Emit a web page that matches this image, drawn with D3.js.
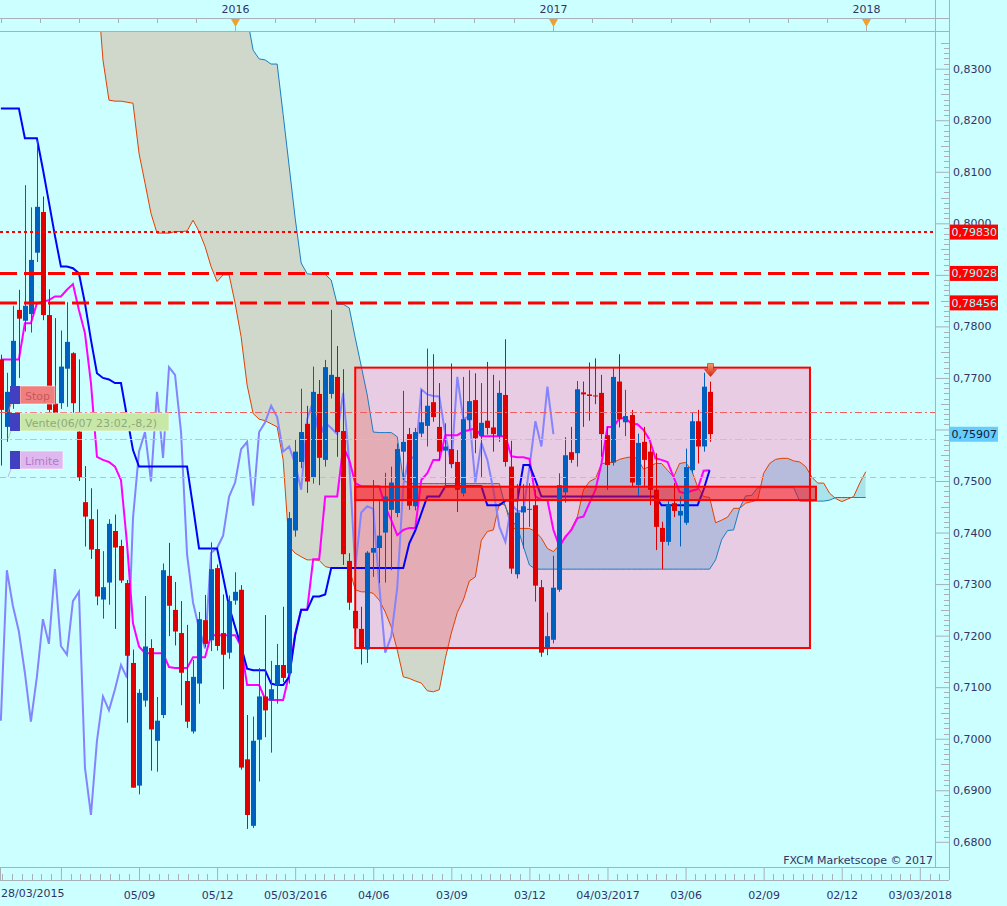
<!DOCTYPE html>
<html>
<head>
<meta charset="utf-8">
<script src="https://cdn.jsdelivr.net/npm/d3@7"></script>
<style>
  html, body { margin: 0; padding: 0; background: #ccffff; }
  svg { display: block; font-family: "DejaVu Sans", Verdana, sans-serif; }
</style>
</head>
<body>
<svg id="chart" width="1007" height="906"></svg>
<script>
// AUD/USD weekly candles, first week starts 28/03/2015
const firstWeek = new Date(Date.UTC(2015, 2, 28));

const opens = [
  0.7736,0.7605,0.7657,0.7832,0.7811,0.7824,0.7943,0.8022,0.7822,0.7650,
  0.7651,0.7718,0.7748,0.7596,0.7459,0.7426,0.7368,0.7270,0.7303,0.7403,
  0.7374,0.7302,0.7147,0.6909,0.7074,0.7176,0.6996,0.7046,0.7316,0.7250,
  0.7205,0.7112,0.7014,0.7107,0.7230,0.7191,0.7331,0.7205,0.7167,0.7268,
  0.7289,0.6960,0.6831,0.6998,0.7082,0.7074,0.7103,0.7143,0.7127,0.7404,
  0.7537,0.7611,0.7507,0.7669,0.7541,0.7669,0.7702,0.7597,0.7345,0.7248,
  0.7213,0.7173,0.7361,0.7370,0.7400,0.7444,0.7438,0.7557,0.7591,0.7451,
  0.7592,0.7607,0.7653,0.7605,0.7559,0.7562,0.7537,0.7476,0.7618,0.7657,
  0.7587,0.7617,0.7604,0.7587,0.7667,0.7528,0.7319,0.7439,0.7445,0.7453,
  0.7294,0.7177,0.7192,0.7289,0.7478,0.7556,0.7554,0.7672,0.7668,0.7666,
  0.7671,0.7589,0.7536,0.7693,0.7614,0.7628,0.7492,0.7576,0.7557,0.7483,
  0.7409,0.7382,0.7457,0.7433,0.7419,0.7521,0.7616,0.7567,0.7673
];
const highs = [
  0.7745,0.7710,0.7840,0.7871,0.8074,0.8031,0.8161,0.8052,0.7872,0.7816,
  0.7792,0.7847,0.7750,0.7736,0.7529,0.7486,0.7445,0.7364,0.7426,0.7435,
  0.7386,0.7308,0.7173,0.7096,0.7277,0.7193,0.7081,0.7340,0.7380,0.7304,
  0.7267,0.7221,0.7153,0.7246,0.7279,0.7381,0.7338,0.7280,0.7278,0.7323,
  0.7298,0.7046,0.7043,0.7137,0.7240,0.7151,0.7184,0.7256,0.7440,0.7580,
  0.7679,0.7646,0.7722,0.7696,0.7735,0.7832,0.7762,0.7717,0.7360,0.7300,
  0.7256,0.7364,0.7502,0.7463,0.7516,0.7528,0.7573,0.7675,0.7603,0.7603,
  0.7677,0.7757,0.7746,0.7690,0.7612,0.7728,0.7560,0.7702,0.7715,0.7709,
  0.7690,0.7731,0.7706,0.7695,0.7775,0.7578,0.7494,0.7494,0.7496,0.7483,
  0.7308,0.7245,0.7355,0.7515,0.7585,0.7605,0.7694,0.7693,0.7730,0.7738,
  0.7706,0.7605,0.7719,0.7746,0.7677,0.7638,0.7592,0.7605,0.7573,0.7554,
  0.7421,0.7461,0.7496,0.7470,0.7563,0.7634,0.7638,0.7710,0.7693
];
const lows = [
  0.7530,0.7576,0.7640,0.7700,0.7790,0.7788,0.7925,0.7812,0.7620,0.7610,
  0.7640,0.7644,0.7620,0.7500,0.7373,0.7349,0.7259,0.7233,0.7260,0.7213,
  0.7302,0.7031,0.6905,0.6892,0.7062,0.6938,0.6936,0.7040,0.7199,0.7181,
  0.7065,0.7021,0.7010,0.7068,0.7178,0.7170,0.7171,0.7096,0.7155,0.7260,
  0.6940,0.6825,0.6827,0.6917,0.7003,0.6973,0.7068,0.7110,0.7107,0.7392,
  0.7525,0.7477,0.7495,0.7492,0.7528,0.7660,0.7547,0.7337,0.7250,0.7200,
  0.7144,0.7147,0.7314,0.7302,0.7303,0.7327,0.7430,0.7502,0.7444,0.7443,
  0.7585,0.7567,0.7615,0.7540,0.7489,0.7525,0.7440,0.7470,0.7600,0.7554,
  0.7508,0.7590,0.7557,0.7576,0.7528,0.7320,0.7311,0.7369,0.7411,0.7266,
  0.7159,0.7162,0.7185,0.7285,0.7458,0.7535,0.7528,0.7605,0.7617,0.7649,
  0.7547,0.7483,0.7530,0.7604,0.7587,0.7490,0.7471,0.7489,0.7453,0.7366,
  0.7329,0.7375,0.7430,0.7373,0.7415,0.7515,0.7534,0.7557,0.7576
];
const closes = [
  0.7638,0.7673,0.7772,0.7815,0.7840,0.7929,0.8032,0.7822,0.7638,0.7630,
  0.7722,0.7770,0.7651,0.7507,0.7431,0.7367,0.7276,0.7294,0.7417,0.7371,
  0.7307,0.7161,0.6905,0.7089,0.7179,0.7018,0.7035,0.7327,0.7258,0.7208,
  0.7128,0.7033,0.7120,0.7232,0.7184,0.7329,0.7180,0.7163,0.7267,0.7285,
  0.6944,0.6852,0.6996,0.7082,0.7055,0.7096,0.7143,0.7118,0.7428,0.7557,
  0.7595,0.7499,0.7673,0.7545,0.7721,0.7706,0.7595,0.7358,0.7264,0.7214,
  0.7175,0.7361,0.7370,0.7394,0.7470,0.7497,0.7562,0.7576,0.7452,0.7595,
  0.7614,0.7646,0.7624,0.7557,0.7567,0.7533,0.7483,0.7620,0.7655,0.7583,
  0.7613,0.7603,0.7591,0.7671,0.7537,0.7330,0.7439,0.7451,0.7446,0.7297,
  0.7167,0.7199,0.7293,0.7492,0.7550,0.7541,0.7678,0.7668,0.7665,0.7664,
  0.7591,0.7531,0.7702,0.7620,0.7626,0.7497,0.7574,0.7541,0.7483,0.7411,
  0.7382,0.7455,0.7442,0.7442,0.7527,0.7616,0.7567,0.7683,0.7591
];

// Ichimoku lines, one value per candle
const tenkan = [
  0.7736,0.7736,0.7736,0.7736,0.7806,0.7806,0.7845,0.7848,0.7851,0.7858,
  0.7858,0.7871,0.7882,0.7832,0.7787,0.7690,0.7547,0.7541,0.7537,0.7528,
  0.7502,0.7379,0.7224,0.7179,0.7166,0.7166,0.7166,0.7166,0.7139,0.7137,
  0.7137,0.7137,0.7158,0.7158,0.7158,0.7201,0.7201,0.7201,0.7201,0.7201,
  0.7179,0.7104,0.7104,0.7104,0.7077,0.7075,0.7075,0.7075,0.7124,0.7204,
  0.7250,0.7250,0.7348,0.7348,0.7470,0.7470,0.7470,0.7567,0.7541,0.7496,
  0.7490,0.7490,0.7490,0.7490,0.7450,0.7424,0.7395,0.7405,0.7409,0.7409,
  0.7502,0.7515,0.7541,0.7541,0.7589,0.7589,0.7589,0.7596,0.7599,0.7602,
  0.7587,0.7587,0.7587,0.7587,0.7587,0.7548,0.7546,0.7546,0.7543,0.7470,
  0.7463,0.7463,0.7405,0.7373,0.7392,0.7405,0.7428,0.7431,0.7457,0.7483,
  0.7534,0.7605,0.7605,0.7622,0.7622,0.7611,0.7610,0.7599,0.7580,0.7544,
  0.7541,0.7537,0.7508,0.7479,0.7476,0.7481,0.7484,0.7520,0.7521
];
const kijun = [
  0.8223,0.8223,0.8223,0.8223,0.8165,0.8165,0.8165,0.8105,0.8041,0.7976,
  0.7916,0.7916,0.7913,0.7903,0.7845,0.7774,0.7709,0.7700,0.7697,0.7690,
  0.7690,0.7625,0.7560,0.7528,0.7528,0.7528,0.7528,0.7528,0.7528,0.7528,
  0.7528,0.7528,0.7450,0.7369,0.7369,0.7369,0.7369,0.7314,0.7256,0.7217,
  0.7179,0.7136,0.7133,0.7133,0.7133,0.7107,0.7104,0.7104,0.7120,0.7200,
  0.7250,0.7250,0.7276,0.7276,0.7280,0.7331,0.7331,0.7331,0.7331,0.7331,
  0.7331,0.7331,0.7331,0.7331,0.7331,0.7331,0.7331,0.7331,0.7379,0.7404,
  0.7437,0.7470,0.7470,0.7470,0.7490,0.7490,0.7490,0.7490,0.7490,0.7490,
  0.7490,0.7453,0.7453,0.7453,0.7462,0.7462,0.7462,0.7531,0.7531,0.7502,
  0.7470,0.7470,0.7470,0.7470,0.7470,0.7470,0.7470,0.7470,0.7470,0.7470,
  0.7470,0.7470,0.7470,0.7470,0.7470,0.7470,0.7470,0.7470,0.7470,0.7470,
  0.7453,0.7453,0.7453,0.7453,0.7453,0.7453,0.7453,0.7483,0.7521
];
// cloud spans, shifted 26 weeks ahead (145 points)
const spanOrange = [
  0.8780,0.8780,0.8745,0.8712,0.8712,0.8690,0.8655,0.8655,0.8610,0.8588,
  0.8588,0.8560,0.8540,0.8540,0.8515,0.8490,0.8470,0.8317,0.8239,0.8237,
  0.8237,0.8235,0.8233,0.8136,0.8078,0.8019,0.7981,0.7981,0.7981,0.7984,
  0.7984,0.7985,0.8006,0.7984,0.7955,0.7916,0.7887,0.7900,0.7900,0.7845,
  0.7780,0.7686,0.7631,0.7620,0.7617,0.7611,0.7605,0.7541,0.7373,0.7360,
  0.7353,0.7347,0.7347,0.7346,0.7334,0.7331,0.7331,0.7331,0.7331,0.7289,
  0.7285,0.7285,0.7282,0.7269,0.7246,0.7217,0.7172,0.7120,0.7117,0.7112,
  0.7108,0.7093,0.7091,0.7095,0.7156,0.7205,0.7245,0.7269,0.7306,0.7314,
  0.7385,0.7402,0.7405,0.7457,0.7453,0.7408,0.7408,0.7408,0.7408,0.7402,
  0.7389,0.7369,0.7363,0.7376,0.7389,0.7408,0.7431,0.7483,0.7499,0.7505,
  0.7533,0.7536,0.7536,0.7542,0.7545,0.7547,0.7544,0.7523,0.7528,0.7534,
  0.7534,0.7521,0.7508,0.7534,0.7536,0.7521,0.7489,0.7470,0.7468,0.7419,
  0.7424,0.7430,0.7447,0.7447,0.7457,0.7460,0.7463,0.7515,0.7534,0.7542,
  0.7544,0.7544,0.7539,0.7537,0.7528,0.7508,0.7496,0.7496,0.7476,0.7466,
  0.7460,0.7465,0.7470,0.7496,0.7518
];
const spanBlue = [
  0.9010,0.9010,0.8995,0.8980,0.8980,0.8965,0.8950,0.8950,0.8930,0.8910,
  0.8910,0.8890,0.8875,0.8875,0.8860,0.8840,0.8840,0.8820,0.8805,0.8805,
  0.8790,0.8770,0.8770,0.8750,0.8735,0.8735,0.8720,0.8700,0.8700,0.8680,
  0.8665,0.8665,0.8640,0.8620,0.8620,0.8600,0.8580,0.8580,0.8560,0.8520,
  0.8470,0.8400,0.8336,0.8319,0.8317,0.8309,0.8309,0.8211,0.8111,0.8010,
  0.7923,0.7902,0.7901,0.7901,0.7901,0.7890,0.7843,0.7843,0.7836,0.7778,
  0.7723,0.7667,0.7595,0.7594,0.7594,0.7594,0.7586,0.7502,0.7495,0.7495,
  0.7495,0.7495,0.7495,0.7495,0.7495,0.7495,0.7495,0.7495,0.7495,0.7495,
  0.7495,0.7495,0.7495,0.7495,0.7450,0.7424,0.7411,0.7373,0.7337,0.7329,
  0.7329,0.7329,0.7329,0.7329,0.7329,0.7329,0.7329,0.7329,0.7329,0.7329,
  0.7329,0.7329,0.7329,0.7329,0.7329,0.7329,0.7329,0.7329,0.7329,0.7329,
  0.7329,0.7329,0.7329,0.7329,0.7329,0.7329,0.7329,0.7329,0.7329,0.7347,
  0.7386,0.7404,0.7405,0.7447,0.7471,0.7472,0.7487,0.7487,0.7487,0.7487,
  0.7487,0.7487,0.7487,0.7461,0.7461,0.7461,0.7461,0.7461,0.7463,0.7468,
  0.7468,0.7468,0.7468,0.7468,0.7468
];
const chikouShift = 26;

// drawn objects
const zoneDates = [new Date(Date.UTC(2016, 4, 14)), new Date(Date.UTC(2017, 9, 26))];
const zonePrices = [0.7720, 0.7176];
const bandDates = [new Date(Date.UTC(2016, 4, 14)), new Date(Date.UTC(2017, 10, 2))];
const bandPrices = [0.7489, 0.7463];
const levelPrices = [0.79830, 0.79028, 0.78456];
const orderNames = ["Stop", "Vente(06/07 23:02,-8,2)", "Limite"];
const orderPrices = [0.7634, 0.7582, 0.7508];
const lastPrice = 0.75907;
const yearMarks = [2015, 2016, 2017, 2018, 2019];
const hiddenPriceTicks = [0.79, 0.76]; // covered by the value boxes

// ---------- layout ----------
const plotR = 935, plotT = 31, plotB = 867, axisR = 949, axisT = 18, axisB = 880;
const axisColor = "#a8b0b8", textColor = "#333366";

const x = d3.scaleUtc()
    .domain([new Date(Date.UTC(2015, 8, 5)), new Date(Date.UTC(2018, 2, 3))])
    .range([139, 919.8]);
const y = d3.scaleLinear().domain([0.68, 0.83]).range([841.8, 68.7]);

const weeks = d3.range(spanOrange.length).map(i => d3.utcDay.offset(firstWeek, 7 * i));
const idx = d3.range(spanOrange.length);
const cidx = d3.range(opens.length);

const svg = d3.select("#chart");
svg.append("rect").attr("width", 1007).attr("height", 906).attr("fill", "#ccffff");

const defs = svg.append("defs");
defs.append("clipPath").attr("id", "plotClip")
  .append("rect").attr("x", 0).attr("y", plotT).attr("width", plotR).attr("height", plotB - plotT);
defs.append("clipPath").attr("id", "aboveOrange")
  .append("path").attr("d", d3.area().x(i => x(weeks[i])).y0(-3000).y1(i => y(spanOrange[i]))(idx));
defs.append("clipPath").attr("id", "belowOrange")
  .append("path").attr("d", d3.area().x(i => x(weeks[i])).y0(3000).y1(i => y(spanOrange[i]))(idx));
const zx0 = x(zoneDates[0]), zx1 = x(zoneDates[1]), zy0 = y(zonePrices[0]), zy1 = y(zonePrices[1]);
defs.append("clipPath").attr("id", "zoneClip")
  .append("rect").attr("x", zx0).attr("y", zy0).attr("width", zx1 - zx0).attr("height", zy1 - zy0);
const grad = defs.append("linearGradient").attr("id", "arrowGrad")
  .attr("x1", 0).attr("y1", 0).attr("x2", 0).attr("y2", 1);
grad.append("stop").attr("offset", "0%").attr("stop-color", "#f4a070");
grad.append("stop").attr("offset", "100%").attr("stop-color", "#d82010");

const plot = svg.append("g").attr("clip-path", "url(#plotClip)");

// pink zone
plot.append("rect")
    .attr("x", zx0).attr("y", zy0).attr("width", zx1 - zx0).attr("height", zy1 - zy0)
    .attr("fill", "#e8cce4");

// cloud
const cloudArea = d3.area().x(i => x(weeks[i])).y0(i => y(spanOrange[i])).y1(i => y(spanBlue[i]));
plot.append("path").attr("d", cloudArea(idx)).attr("fill", "#d0d8cc").attr("clip-path", "url(#aboveOrange)");
plot.append("path").attr("d", cloudArea(idx)).attr("fill", "#a8e4ec").attr("clip-path", "url(#belowOrange)");
const inZone = plot.append("g").attr("clip-path", "url(#zoneClip)");
inZone.append("path").attr("d", cloudArea(idx)).attr("fill", "#e4acb4").attr("clip-path", "url(#aboveOrange)");
inZone.append("path").attr("d", cloudArea(idx)).attr("fill", "#b8bcdc").attr("clip-path", "url(#belowOrange)");

const spanLine = arr => d3.line().x(i => x(weeks[i])).y(i => y(arr[i]))(idx);
plot.append("path").attr("d", spanLine(spanOrange)).attr("fill", "none").attr("stroke", "#e04000").attr("stroke-width", 1);
plot.append("path").attr("d", spanLine(spanBlue)).attr("fill", "none").attr("stroke", "#1e7cc0").attr("stroke-width", 1);

// chikou, tenkan, kijun
const chIdx = d3.range(closes.length - chikouShift);
plot.append("path")
    .attr("d", d3.line().x(i => x(weeks[i])).y(i => y(closes[i + chikouShift]))(chIdx))
    .attr("fill", "none").attr("stroke", "#8484ff").attr("stroke-width", 2);
plot.append("path")
    .attr("d", d3.line().x(i => x(weeks[i])).y(i => y(tenkan[i]))(cidx))
    .attr("fill", "none").attr("stroke", "#ff00ff").attr("stroke-width", 2);
plot.append("path")
    .attr("d", d3.line().x(i => x(weeks[i])).y(i => y(kijun[i]))(cidx))
    .attr("fill", "none").attr("stroke", "#0000ff").attr("stroke-width", 2);

// red band
const bx0 = x(bandDates[0]), bx1 = x(bandDates[1]), by0 = y(bandPrices[0]), by1 = y(bandPrices[1]);
plot.append("rect")
    .attr("x", bx0).attr("y", by0).attr("width", bx1 - bx0).attr("height", by1 - by0)
    .attr("fill", "rgba(255,0,0,0.5)");

// zone border
plot.append("rect")
    .attr("x", zx0).attr("y", zy0).attr("width", zx1 - zx0).attr("height", zy1 - zy0)
    .attr("fill", "none").attr("stroke", "#ff0000").attr("stroke-width", 2);

// candles
const candle = plot.append("g").selectAll("g").data(cidx).join("g");
const cColor = i => closes[i] >= opens[i] ? "#0060c0" : "#e00000";
candle.append("line")
    .attr("x1", i => Math.round(x(weeks[i])) + 0.5).attr("x2", i => Math.round(x(weeks[i])) + 0.5)
    .attr("y1", i => y(highs[i])).attr("y2", i => y(lows[i]))
    .attr("stroke", cColor).attr("stroke-width", 1);
candle.append("rect")
    .attr("x", i => Math.round(x(weeks[i])) - 2)
    .attr("width", 5)
    .attr("y", i => y(Math.max(opens[i], closes[i])))
    .attr("height", i => Math.max(1, Math.abs(y(opens[i]) - y(closes[i]))))
    .attr("fill", cColor);

plot.append("rect")
    .attr("x", bx0).attr("y", by0).attr("width", bx1 - bx0).attr("height", by1 - by0)
    .attr("fill", "none").attr("stroke", "#ff0000").attr("stroke-width", 2);

// horizontal price levels
plot.selectAll("line.level").data(levelPrices).join("line")
    .attr("class", "level")
    .attr("x1", 0).attr("x2", plotR)
    .attr("y1", d => y(d)).attr("y2", d => y(d))
    .attr("stroke", "#ff0000")
    .attr("stroke-width", (d, i) => i === 0 ? 2 : 3)
    .attr("stroke-dasharray", (d, i) => i === 0 ? "3,3" : "17,7");

// order lines
const orderStroke = ["#f06060", "#a8d8a0", "#d0b0e0"];
const orderDash = ["7,3,2,3", "7,3,2,3", "6,4"];
plot.selectAll("line.order").data(orderPrices).join("line")
    .attr("class", "order")
    .attr("x1", 0).attr("x2", plotR)
    .attr("y1", d => Math.round(y(d)) + 0.5).attr("y2", d => Math.round(y(d)) + 0.5)
    .attr("stroke", (d, i) => orderStroke[i]).attr("stroke-width", 1)
    .attr("stroke-dasharray", (d, i) => orderDash[i]);

// order labels on the left
const boxFill = ["#f08080", "#c8e8a8", "#e0b8f0"];
const boxText = ["#c85858", "#90a880", "#b078c8"];
const boxW = [35, 149, 43];
const ol = svg.append("g").selectAll("g").data(orderPrices).join("g")
    .attr("transform", d => `translate(0,${Math.round(y(d)) - 26})`);
ol.append("line").attr("x1", 8).attr("y1", 26).attr("x2", 11).attr("y2", 18)
    .attr("stroke", (d, i) => orderStroke[i]).attr("stroke-width", 1);
ol.append("rect").attr("x", 20).attr("y", 0).attr("height", 18)
    .attr("width", (d, i) => boxW[i])
    .attr("fill", (d, i) => boxFill[i]).attr("stroke", "#ffffff").attr("stroke-opacity", 0.5);
ol.append("rect").attr("x", 10).attr("y", 0).attr("width", 10).attr("height", 18).attr("fill", "#4040c0");
ol.append("text").attr("x", 25).attr("y", 13.5)
    .attr("font-size", 11).attr("fill", (d, i) => boxText[i])
    .text((d, i) => orderNames[i]);

// signal arrow above last candle
const last = opens.length - 1;
const ax = Math.round(x(weeks[last])) + 0.5, ay = y(highs[last]) - 5;
svg.append("polygon")
    .attr("points", [[ax - 3, ay - 13], [ax + 3, ay - 13], [ax + 3, ay - 7], [ax + 6, ay - 7],
                     [ax, ay], [ax - 6, ay - 7], [ax - 3, ay - 7]].map(p => p.join(",")).join(" "))
    .attr("fill", "url(#arrowGrad)").attr("stroke", "#c02000").attr("stroke-width", 0.6);

// ---------- axes ----------
const frame = svg.append("g").attr("stroke", axisColor).attr("stroke-width", 1).attr("shape-rendering", "crispEdges");
frame.append("line").attr("x1", 0).attr("x2", axisR).attr("y1", axisT + 0.5).attr("y2", axisT + 0.5);
frame.append("line").attr("x1", 0).attr("x2", axisR).attr("y1", plotT + 0.5).attr("y2", plotT + 0.5);
frame.append("line").attr("x1", 0).attr("x2", axisR).attr("y1", plotB + 0.5).attr("y2", plotB + 0.5);
frame.append("line").attr("x1", 0).attr("x2", axisR).attr("y1", axisB + 0.5).attr("y2", axisB + 0.5);
frame.append("line").attr("x1", plotR + 0.5).attr("x2", plotR + 0.5).attr("y1", 0).attr("y2", plotB);
frame.append("line").attr("x1", axisR + 0.5).attr("x2", axisR + 0.5).attr("y1", 0).attr("y2", axisB);

// right price axis
const priceFmt = d => hiddenPriceTicks.some(h => Math.abs(h - d) < 1e-6) ? "" : d3.format(".4f")(d).replace(".", ",");
const rightAxis = svg.append("g").attr("transform", `translate(${plotR},0)`)
    .call(d3.axisRight(y).tickValues(d3.range(68, 84).map(v => v / 100)).tickSize(14).tickPadding(4).tickFormat(priceFmt));
rightAxis.select(".domain").remove();
rightAxis.selectAll(".tick line").attr("stroke", axisColor);
rightAxis.selectAll(".tick text").attr("fill", textColor).attr("font-size", 11)
    .attr("font-family", "DejaVu Sans, Verdana, sans-serif");
const minorP = d3.range(680, 836).filter(v => v % 10 !== 0).map(v => v / 1000);
svg.append("g").selectAll("line").data(minorP).join("line")
    .attr("x1", d => axisR - (Math.round(d * 1000) % 5 === 0 ? 8 : 5)).attr("x2", axisR)
    .attr("y1", d => Math.round(y(d)) + 0.5).attr("y2", d => Math.round(y(d)) + 0.5)
    .attr("stroke", axisColor).attr("shape-rendering", "crispEdges");

// bottom date axis
const majorDates = d3.range(12).map(i => d3.utcDay.offset(new Date(Date.UTC(2015, 5, 6)), 91 * i));
const dateFmt = (d, i) => {
  if (i === 0) return "";
  const prev = majorDates[i - 1];
  return prev.getUTCFullYear() !== d.getUTCFullYear() ? d3.utcFormat("%d/%m/%Y")(d) : d3.utcFormat("%d/%m")(d);
};
const bottomAxis = svg.append("g").attr("transform", `translate(0,${plotB})`)
    .call(d3.axisBottom(x).tickValues(majorDates).tickSize(13).tickPadding(11).tickFormat(dateFmt));
bottomAxis.select(".domain").remove();
bottomAxis.selectAll(".tick line").attr("stroke", axisColor);
bottomAxis.selectAll(".tick text").attr("fill", textColor).attr("font-size", 11)
    .attr("font-family", "DejaVu Sans, Verdana, sans-serif");
svg.append("line").attr("x1", 0.5).attr("x2", 0.5).attr("y1", plotB).attr("y2", axisB).attr("stroke", axisColor);
svg.append("text").attr("x", 1).attr("y", 897).attr("font-size", 11).attr("fill", textColor)
    .text(d3.utcFormat("%d/%m/%Y")(firstWeek));
const minorDates = d3.range(-8, 100)
    .map(i => new Date(majorDates[0].getTime() + i * 91 * 864e5 / 8))
    .filter((d, i) => (i + 8) % 8 !== 0 && x(d) >= 0 && x(d) <= axisR);
svg.append("g").selectAll("line").data(minorDates).join("line")
    .attr("x1", d => Math.round(x(d)) + 0.5).attr("x2", d => Math.round(x(d)) + 0.5)
    .attr("y1", axisB - 6).attr("y2", axisB)
    .attr("stroke", axisColor).attr("shape-rendering", "crispEdges");

// top year axis
const marks = yearMarks.map(yr => d3.utcSaturday.floor(new Date(Date.UTC(yr, 0, 1))));
const topTicks = [];
for (let k = 0; k < marks.length - 1; k++) {
  for (let j = 0; j < 8; j++) {
    topTicks.push(new Date(marks[k].getTime() + j * (marks[k + 1] - marks[k]) / 8));
  }
}
svg.append("g").selectAll("line").data(topTicks.filter(d => x(d) >= 0 && x(d) <= plotR)).join("line")
    .attr("x1", d => Math.round(x(d)) + 0.5).attr("x2", d => Math.round(x(d)) + 0.5)
    .attr("y1", axisT).attr("y2", axisT + 5)
    .attr("stroke", axisColor).attr("shape-rendering", "crispEdges");
const shown = yearMarks.map((yr, i) => ({ yr, d: marks[i] })).filter(m => x(m.d) > 5 && x(m.d) < plotR);
const ym = svg.append("g").selectAll("g").data(shown).join("g")
    .attr("transform", m => `translate(${Math.round(x(m.d)) + 0.5},0)`);
ym.append("line").attr("y1", 26).attr("y2", plotT).attr("stroke", axisColor);
ym.append("polygon").attr("points", "-4.5,19 4.5,19 0,27").attr("fill", "#f0a030");
ym.append("text").attr("y", 13).attr("text-anchor", "middle").attr("font-size", 11)
    .attr("fill", textColor).text(m => m.yr);

// right value boxes
const lv = svg.append("g").selectAll("g").data(levelPrices).join("g")
    .attr("transform", d => `translate(950,${y(d)})`);
lv.append("rect").attr("x", 0).attr("y", -7.5).attr("width", 48).attr("height", 15).attr("fill", "#ff0000");
lv.append("text").attr("x", 1.5).attr("y", 4).attr("font-size", 11).attr("fill", "#a0ffff")
    .text(d => d3.format(".5f")(d).replace(".", ","));
const cp = svg.append("g").attr("transform", `translate(950,${y(lastPrice)})`);
cp.append("rect").attr("x", 0).attr("y", -7.5).attr("width", 48).attr("height", 15).attr("fill", "#66ccff");
cp.append("text").attr("x", 1.5).attr("y", 4).attr("font-size", 11).attr("fill", "#102030")
    .text(d3.format(".5f")(lastPrice).replace(".", ","));

svg.append("text").attr("x", 933).attr("y", 864).attr("text-anchor", "end")
    .attr("font-size", 11).attr("fill", textColor).text("FXCM Marketscope © 2017");
</script>
</body>
</html>
